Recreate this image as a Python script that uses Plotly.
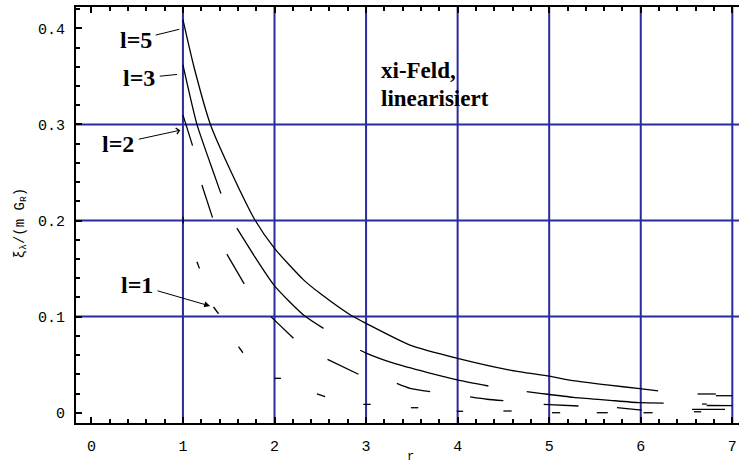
import plotly.graph_objects as go

# --- curves of the linearised xi field for several l (None = break in the drawn line) ---
L5_X = [1.0, 1.12, 1.30, 1.50, 1.79, 2.0, 2.32, 2.5, 2.83, 3.0, 3.48, 4.0, 4.57, 5.0, 5.26, 5.63, 5.99, 6.19,
        None, 6.62, 6.82, None, 6.82, 7.0]
L5_Y = [0.409, 0.360, 0.300, 0.256, 0.200, 0.171, 0.138, 0.124, 0.1017, 0.093, 0.0704, 0.0566, 0.0444, 0.038,
        0.0335, 0.029, 0.025, 0.0228, None, 0.0195, 0.0195, None, 0.0177, 0.0177]

L3_X = [1.0, 1.153, 1.30, 1.415, None,
        1.589, 1.80, 2.0, 2.317, 2.535, None,
        2.936, 3.0, 3.30, 3.664, 4.009, 4.336, None,
        4.755, 4.90, 5.264, 5.63, 5.99, 6.25, None,
        6.67, 6.72, None, 6.72, 7.0]
L3_Y = [0.362, 0.300, 0.259, 0.228, None,
        0.192, 0.160, 0.132, 0.1017, 0.0878, None,
        0.065, 0.062, 0.0515, 0.042, 0.034, 0.0278, None,
        0.0219, 0.0202, 0.016, 0.0132, 0.0104, 0.0100, None,
        0.009, 0.009, None, 0.0075, 0.0073]

L2_X = [1.0, 1.105, None, 1.207, 1.323, None, 1.480, 1.669, None, 1.96, 2.207, None,
        2.579, 2.917, None, 3.336, 3.48, 3.70, None, 4.136, 4.32, 4.50, None,
        4.94, 5.32, None, 5.74, 6.01, None, 6.56, 6.92]
L2_Y = [0.310, 0.278, None, 0.237, 0.203, None, 0.165, 0.134, None, 0.100, 0.0774, None,
        0.0556, 0.040, None, 0.0306, 0.0254, 0.0219, None, 0.0165, 0.014, 0.0125, None,
        0.0087, 0.0070, None, 0.0052, 0.0028, None, 0.0035, 0.0035]

L1_X = [1.0, 1.004, None, 1.153, 1.18, None, 1.334, 1.389, None, 1.607, 1.655, None,
        2.0, 2.07, None, 2.463, 2.553, None, 2.97, 3.05, None, 3.49, 3.57, None,
        3.99, 4.06, None, 4.50, 4.59, None, 5.03, 5.12, None, 5.52, 5.64, None,
        6.03, 6.13, None, 6.58, 6.66]
L1_Y = [0.204, 0.197, None, 0.157, 0.150, None, 0.110, 0.103, None, 0.0687, 0.0624, None,
        0.0358, 0.0358, None, 0.0195, 0.0167, None, 0.0087, 0.0087, None, 0.0052, 0.0052, None,
        0.0015, 0.0015, None, 0.0018, 0.0018, None, 0.0, 0.0, None, 0.0, 0.0, None,
        0.0, 0.0, None, 0.001, 0.001]

# --- axes ---
X_RANGE = [-0.168, 7.073]
Y_RANGE = [-0.0107, 0.4222]
X_TICKS = [0, 1, 2, 3, 4, 5, 6, 7]
Y_TICKS = [0, 0.1, 0.2, 0.3, 0.4]
Y_TICK_TEXT = ["0", "0.1", "0.2", "0.3", "0.4"]
GRID_X = [1, 2, 3, 4, 5, 6, 7]
GRID_Y = [0.1, 0.2, 0.3]

# --- curve labels: text centre, arrow tip, arrow head style, gap after text ---
LABELS = [
    ("l=5", 0.49, 0.388, 0.960, 0.399, 0, 2),
    ("l=3", 0.523, 0.348, 0.935, 0.352, 0, 3),
    ("l=2", 0.295, 0.280, 0.971, 0.294, 4, 3),
    ("l=1", 0.50, 0.133, 1.298, 0.111, 2, 3),
]

GRID_COLOR = "#2a2a9c"
MONO = "Liberation Mono"
SERIF = "Liberation Serif"

fig = go.Figure()

for xs, ys in [(L5_X, L5_Y), (L3_X, L3_Y), (L2_X, L2_Y), (L1_X, L1_Y)]:
    fig.add_trace(go.Scatter(x=xs, y=ys, mode="lines", connectgaps=False,
                             line=dict(color="black", width=1.3, shape="spline", smoothing=0.6),
                             hoverinfo="skip", showlegend=False))

shapes = []
for gx in GRID_X:
    shapes.append(dict(type="line", xref="x", yref="paper", x0=gx, x1=gx, y0=0, y1=1,
                       line=dict(color=GRID_COLOR, width=2), layer="below"))
for gy in GRID_Y:
    shapes.append(dict(type="line", xref="paper", yref="y", x0=0, x1=1, y0=gy, y1=gy,
                       line=dict(color=GRID_COLOR, width=2), layer="below"))

annotations = []
for text, tx, ty, hx, hy, head, gap in LABELS:
    # label text sits at (ax, ay); the leader runs from the text box to the curve
    annotations.append(dict(x=hx, y=hy, ax=tx, ay=ty, xref="x", yref="y", axref="x", ayref="y",
                            text="<b>%s</b>" % text, showarrow=True, arrowhead=head,
                            arrowsize=1.2, arrowwidth=1, arrowcolor="black",
                            standoff=0, startstandoff=gap,
                            font=dict(family=SERIF, size=24, color="black")))

annotations += [
    dict(x=3.145, y=0.356, xref="x", yref="y", text="<b>xi-Feld,</b>", showarrow=False,
         xanchor="left", yanchor="middle", font=dict(family=SERIF, size=23, color="black")),
    dict(x=3.145, y=0.327, xref="x", yref="y", text="<b>linearisiert</b>", showarrow=False,
         xanchor="left", yanchor="middle", font=dict(family=SERIF, size=23, color="black")),
    dict(x=-0.083, y=0.198, xref="paper", yref="y", text="ξ<sub>λ</sub>/(m G<sub>R</sub>)",
         textangle=-90, showarrow=False, xanchor="center", yanchor="middle",
         font=dict(family=MONO, size=14, color="black")),
    dict(x=3.49, y=-0.082, xref="x", yref="paper", text="r", showarrow=False,
         xanchor="center", yanchor="middle", font=dict(family=MONO, size=12, color="black")),
]

fig.update_layout(
    width=739, height=465,
    margin=dict(l=76, r=0, t=7, b=42),
    paper_bgcolor="white", plot_bgcolor="white",
    shapes=shapes, annotations=annotations,
    xaxis=dict(range=X_RANGE, tickvals=X_TICKS, showgrid=False, zeroline=False,
               showline=True, linecolor="black", linewidth=2, mirror="ticks",
               ticks="inside", ticklen=6, tickwidth=1.5, tickcolor="black",
               ticklabelstandoff=8,
               minor=dict(dtick=0.2, ticks="inside", ticklen=4, tickwidth=1.5, tickcolor="black"),
               tickfont=dict(family=MONO, size=15, color="black")),
    yaxis=dict(range=Y_RANGE, tickvals=Y_TICKS, ticktext=Y_TICK_TEXT, showgrid=False,
               zeroline=False, showline=True, linecolor="black", linewidth=2,
               ticks="inside", ticklen=6, tickwidth=1.5, tickcolor="black",
               ticklabelstandoff=6,
               minor=dict(dtick=0.02, ticks="inside", ticklen=4, tickwidth=1.5, tickcolor="black"),
               tickfont=dict(family=MONO, size=15, color="black")),
)

fig.write_html("out.html")
